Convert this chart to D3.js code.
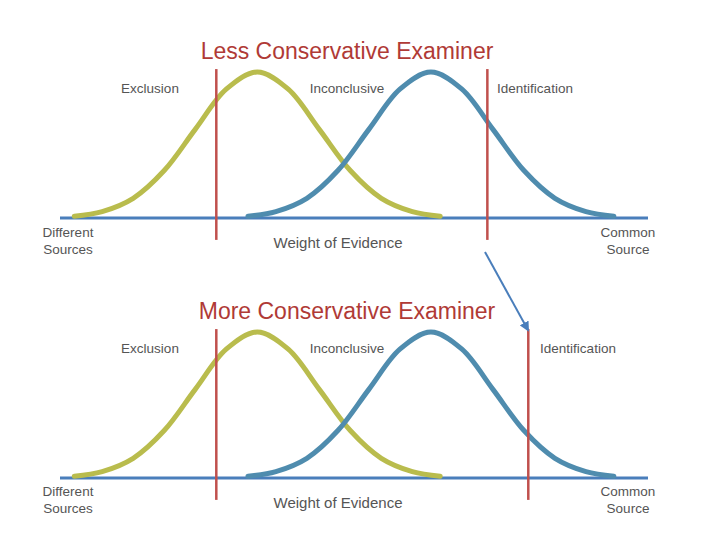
<!DOCTYPE html>
<html><head><meta charset="utf-8">
<script src="https://cdn.jsdelivr.net/npm/d3@7"></script>
<style>body{margin:0;background:#fff}</style></head>
<body><svg id="c" width="720" height="540"></svg>
<script>
// evidence axis in sd units, density height relative to peak
var zOffsets = [-2.95, -2.5, -2, -1.5, -1, -0.5, 0, 0.5, 1, 1.5, 2, 2.5, 2.95];
var heights  = [0.012, 0.044, 0.135, 0.325, 0.607, 0.882, 1, 0.882, 0.607, 0.325, 0.135, 0.044, 0.012];
var meanDifferent = 0;
var meanCommon = 2.8;
var panels = [
  {title: "Less Conservative Examiner", top: 0, cuts: [-0.66, 3.71]},
  {title: "More Conservative Examiner", top: 260, cuts: [-0.66, 4.37]}
];
var zoneLabels = ["Exclusion", "Inconclusive", "Identification"];

var svg = d3.select("#c");
var x = d3.scaleLinear().domain([-3.18, 6.3]).range([60, 648]);
var font = "Liberation Sans, Arial, sans-serif";

panels.forEach(function (p, pi) {
  var y = d3.scaleLinear().domain([0, 1]).range([p.top + 218, p.top + 72]);
  var g = svg.append("g");
  g.append("text").attr("x", 347).attr("y", p.top + 59).attr("text-anchor", "middle")
    .attr("font-family", font).attr("font-size", 23).attr("fill", "#b03a36").text(p.title);
  g.append("line").attr("x1", x.range()[0]).attr("x2", x.range()[1])
    .attr("y1", y(0)).attr("y2", y(0)).attr("stroke", "#4a7ebb").attr("stroke-width", 3);
  var line = d3.line().curve(d3.curveCatmullRom)
    .x(function (d) { return x(d[0]); }).y(function (d) { return y(d[1]); });
  [[meanDifferent, "#b9bc4d"], [meanCommon, "#4f8cae"]].forEach(function (s) {
    var pts = zOffsets.map(function (z, i) { return [s[0] + z, heights[i]]; });
    g.append("path").attr("d", line(pts)).attr("fill", "none")
      .attr("stroke", s[1]).attr("stroke-width", 5).attr("stroke-linecap", "round");
  });
  p.cuts.forEach(function (c) {
    g.append("line").attr("x1", x(c)).attr("x2", x(c))
      .attr("y1", y(1.02)).attr("y2", y(-0.15)).attr("stroke", "#c0504d").attr("stroke-width", 2.5);
  });
  var lx = [150, 347, pi === 0 ? 535 : 578];
  zoneLabels.forEach(function (t, i) {
    g.append("text").attr("x", lx[i]).attr("y", p.top + 93).attr("text-anchor", "middle")
      .attr("font-family", font).attr("font-size", 13.5).attr("fill", "#555").text(t);
  });
  [["Different", "Sources", 68], ["Common", "Source", 628]].forEach(function (t) {
    var tx = g.append("text").attr("text-anchor", "middle").attr("font-family", font)
      .attr("font-size", 13.5).attr("fill", "#555");
    tx.append("tspan").attr("x", t[2]).attr("y", p.top + 237 - (pi ? 1 : 0)).text(t[0]);
    tx.append("tspan").attr("x", t[2]).attr("y", p.top + 254 - (pi ? 1 : 0)).text(t[1]);
  });
  g.append("text").attr("x", 338).attr("y", p.top + 248).attr("text-anchor", "middle")
    .attr("font-family", font).attr("font-size", 15).attr("fill", "#555").text("Weight of Evidence");
});

svg.append("defs").append("marker").attr("id", "ah").attr("viewBox", "0 0 10 10")
  .attr("refX", 8).attr("refY", 5).attr("markerWidth", 5).attr("markerHeight", 5).attr("orient", "auto")
  .append("path").attr("d", "M0,0L10,5L0,10z").attr("fill", "#4a7ebb");
svg.append("line").attr("x1", 485).attr("y1", 252).attr("x2", 528).attr("y2", 330)
  .attr("stroke", "#4a7ebb").attr("stroke-width", 2).attr("marker-end", "url(#ah)");
</script></body></html>
